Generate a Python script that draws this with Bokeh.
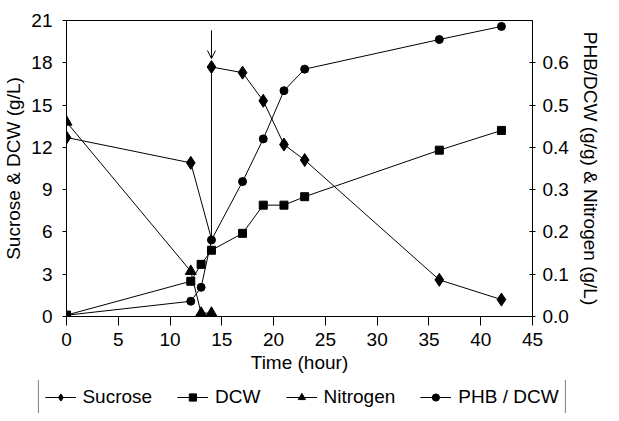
import math
from bokeh.plotting import figure
from bokeh.layouts import column
from bokeh.models import (Range1d, LinearAxis, SingleIntervalTicker, PrintfTickFormatter,
                          Legend, LegendItem, Arrow, OpenHead, ColumnDataSource, CDSView,
                          BooleanFilter)
from bokeh.embed import file_html
from bokeh.resources import INLINE

# ---- data ----
time_sucrose = [0, 12, 14, 14, 17, 19, 21, 23, 36, 42]
sucrose = [12.7, 10.9, 5.5, 17.7, 17.3, 15.3, 12.2, 11.1, 2.6, 1.2]
sucrose_marker = [True, True, False, True, True, True, True, True, True, True]

time_dcw = [0, 12, 13, 14, 17, 19, 21, 23, 36, 42]
dcw = [0.1, 2.5, 3.7, 4.7, 5.9, 7.9, 7.9, 8.5, 11.8, 13.2]

time_nitrogen = [0, 12, 13, 14]
nitrogen = [0.46, 0.107, 0.008, 0.008]

time_phb = [0, 12, 13, 14, 17, 19, 21, 23, 36, 42]
phb_dcw = [0.003, 0.036, 0.069, 0.181, 0.319, 0.42, 0.534, 0.585, 0.655, 0.686]

feed_time = 14
arrow_top = 20.3
arrow_tip = 18.3

x_title = "Time (hour)"
y_title = "Sucrose & DCW (g/L)"
y2_title = "PHB/DCW (g/g) & Nitrogen (g/L)"
series_names = ["Sucrose", "DCW", "Nitrogen", "PHB / DCW"]

FONT = "Liberation Sans"
FS = "19px"


def draw_series(fig):
    lw = 1
    l_s = fig.line(time_sucrose, sucrose, line_color="black", line_width=lw)
    l_d = fig.line(time_dcw, dcw, line_color="black", line_width=lw)
    l_n = fig.line(time_nitrogen, nitrogen, line_color="black", line_width=lw,
                   y_range_name="right")
    l_p = fig.line(time_phb, phb_dcw, line_color="black", line_width=lw,
                   y_range_name="right")
    src_s = ColumnDataSource(dict(x=time_sucrose, y=sucrose))
    m_s = fig.scatter("x", "y", source=src_s,
                      view=CDSView(filter=BooleanFilter(sucrose_marker)),
                      marker="diamond", size=13, color="black")
    m_d = fig.scatter(time_dcw, dcw, marker="square", size=8, color="black")
    m_n = fig.scatter(time_nitrogen, nitrogen, marker="triangle", size=11, color="black",
                      y_range_name="right")
    m_p = fig.scatter(time_phb, phb_dcw, marker="circle", size=8, color="black",
                      y_range_name="right")
    return [(l_s, m_s), (l_d, m_d), (l_n, m_n), (l_p, m_p)]


# ---- main chart ----
p = figure(width=603, height=380, output_backend="svg", toolbar_location=None,
           x_range=Range1d(0, 45), y_range=Range1d(0, 21),
           min_border_left=63, min_border_right=66, min_border_top=20,
           min_border_bottom=64, background_fill_color="white",
           border_fill_color="white")
p.frame_align = False
p.extra_y_ranges = {"right": Range1d(0, 0.7)}
p.grid.visible = False
p.outline_line_color = "black"
p.outline_line_width = 1

p.xaxis.ticker = SingleIntervalTicker(interval=5)
p.yaxis.ticker = SingleIntervalTicker(interval=3)
p.xaxis.axis_label = x_title
p.yaxis.axis_label = y_title

yr = LinearAxis(y_range_name="right", ticker=SingleIntervalTicker(interval=0.1),
                formatter=PrintfTickFormatter(format="%.1f"), axis_label=y2_title)
p.add_layout(yr, "right")

for ax in [p.xaxis[0], p.yaxis[0], yr]:
    ax.minor_tick_line_color = None
    ax.axis_line_color = "black"
    ax.major_tick_line_color = "black"
    ax.major_label_text_font = FONT
    ax.major_label_text_font_size = FS
    ax.major_label_text_color = "black"
    ax.axis_label_text_font = FONT
    ax.axis_label_text_font_size = FS
    ax.axis_label_text_font_style = "normal"
    ax.axis_label_text_color = "black"

p.xaxis.major_tick_out = 9
p.xaxis.major_tick_in = 0
p.xaxis.major_label_standoff = 7
p.xaxis.axis_label_standoff = 3
p.yaxis.major_tick_out = 4
p.yaxis.major_tick_in = 0
p.yaxis.major_label_standoff = 10
p.yaxis.axis_label_standoff = 4
yr.major_tick_out = 3
yr.major_tick_in = 3
yr.major_label_standoff = 6
yr.axis_label_standoff = 8

draw_series(p)

p.add_layout(Arrow(x_start=feed_time, y_start=arrow_top, x_end=feed_time, y_end=arrow_tip,
                   line_color="black", line_width=1,
                   end=OpenHead(size=8, line_color="black", line_width=1)))

# ---- legend strip (same series, drawn outside its visible range) ----
lf = figure(width=603, height=33, output_backend="svg", toolbar_location=None,
            x_range=Range1d(-100, -99), y_range=Range1d(-100, -99),
            x_axis_type=None, y_axis_type=None,
            min_border_left=0, min_border_right=0, min_border_top=0, min_border_bottom=0,
            background_fill_color="white", border_fill_color="white")
lf.frame_align = False
lf.extra_y_ranges = {"right": Range1d(-100, -99)}
lf.grid.visible = False
lf.outline_line_color = None
pairs = draw_series(lf)

legend = Legend(items=[LegendItem(label=name, renderers=list(rs))
                       for name, rs in zip(series_names, pairs)],
                orientation="horizontal", location="center",
                border_line_color="black", border_line_width=1, background_fill_alpha=1,
                padding=6, spacing=25, label_standoff=7, glyph_width=31, glyph_height=18,
                label_height=18, label_text_font=FONT, label_text_font_size=FS,
                label_text_color="black", margin=0)
lf.add_layout(legend)

layout = column(p, lf, spacing=0)
open("out.html", "w").write(file_html(layout, INLINE))
